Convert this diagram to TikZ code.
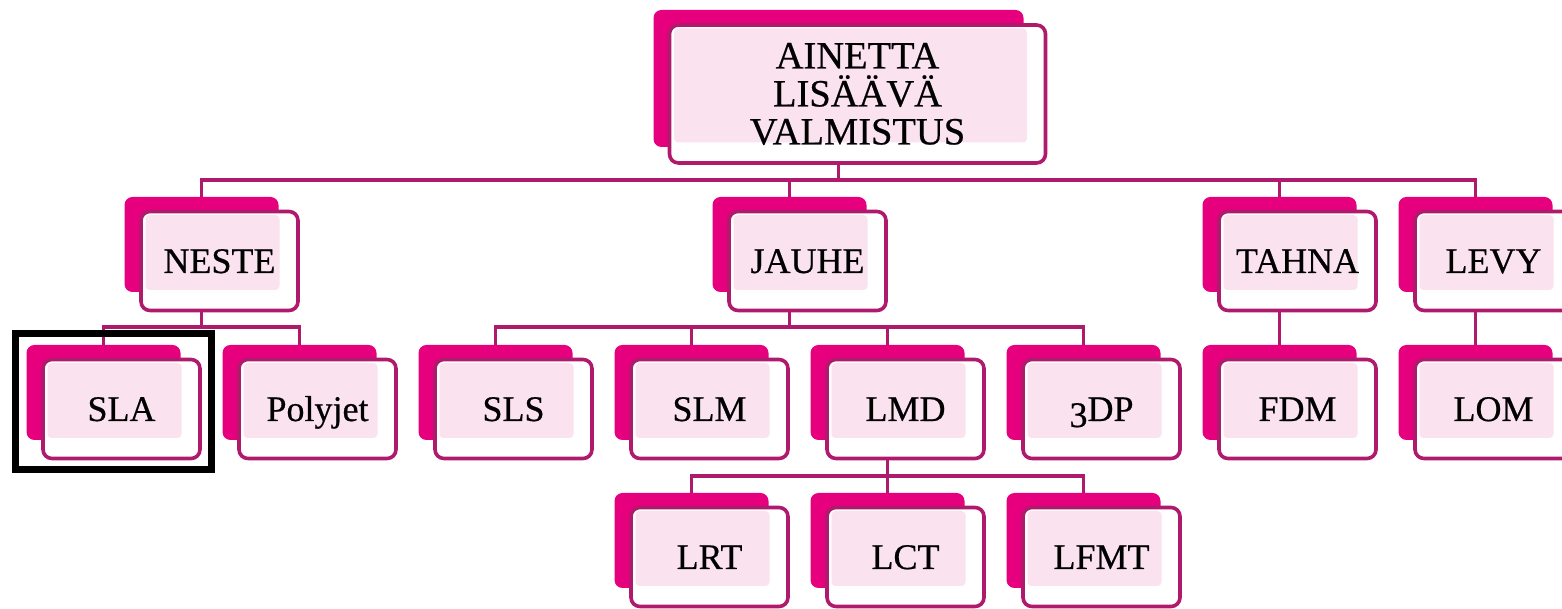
\documentclass[tikz,border=0pt]{standalone}
\usepackage{fontspec}
\setmainfont{Liberation Serif}
\usepackage{tikz}
\usetikzlibrary{positioning,calc,fit,backgrounds}
\definecolor{boxmagenta}{RGB}{230,0,126}
\definecolor{edgemagenta}{RGB}{176,26,108}
\definecolor{innerpink}{RGB}{250,226,239}

\begin{document}
\begin{tikzpicture}[
    x=1pt, y=1pt,
    node distance=53pt and 42pt,
    backbox/.style={fill=boxmagenta, rounded corners=8pt, minimum width=154pt, minimum height=95pt, inner sep=0pt, outer sep=0pt},
    rootback/.style={backbox, minimum width=370pt, minimum height=137pt},
    facebox/.style={draw=edgemagenta, line width=3.6pt, fill=white, rounded corners=9pt, inner sep=0pt, outer sep=0pt,
        path picture={\fill[innerpink, rounded corners=4pt] ([shift={(4.5pt,-3.5pt)}]path picture bounding box.north west) rectangle ([shift={(-18.5pt,20.5pt)}]path picture bounding box.south east);}},
    leafbox/.style={facebox, minimum width=157pt, minimum height=99pt, font=\fontsize{36}{38}\selectfont\addfontfeature{FakeBold=0.5}, text height=24pt, text depth=0pt},
    rootbox/.style={facebox, minimum width=376pt, minimum height=138pt, font=\fontsize{38.5}{38}\selectfont\addfontfeature{FakeBold=0.5}, align=center},
    link/.style={draw=edgemagenta, line width=3.6pt},
    hilite/.style={draw=black, line width=7pt, inner sep=11pt}
]
    \useasboundingbox (0,0) rectangle (1562,609);

    % back plates, process row
    \node[backbox] (sla-b) at (103.5,216.5) {};
    \node[backbox, right=of sla-b] (poly-b) {};
    \node[backbox, right=of poly-b] (sls-b) {};
    \node[backbox, right=of sls-b] (slm-b) {};
    \node[backbox, right=of slm-b] (lmd-b) {};
    \node[backbox, right=of lmd-b] (tdp-b) {};
    \node[backbox, right=of tdp-b] (fdm-b) {};
    \node[backbox, right=of fdm-b] (lom-b) {};
    % LMD variants
    \node[backbox, below=of slm-b] (lrt-b) {};
    \node[backbox, below=of lmd-b] (lct-b) {};
    \node[backbox, below=of tdp-b] (lfmt-b) {};
    % material groups
    \coordinate (nestemid) at ($(sla-b.north)!0.5!(poly-b.north)$);
    \coordinate (jauhemid) at ($(sls-b.north)!0.5!(tdp-b.north)$);
    \node[backbox, above=of nestemid] (neste-b) {};
    \node[backbox, above=of jauhemid] (jauhe-b) {};
    \node[backbox, above=of fdm-b] (tahna-b) {};
    \node[backbox, above=of lom-b] (levy-b) {};
    \coordinate (rootmid) at ($(neste-b.north)!0.5!(levy-b.north)$);
    \node[rootback, above=50pt of rootmid] (root-b) {};

    % front cards
    \node[rootbox] (root) at ([shift={(19pt,-15.5pt)}]root-b) {AINETTA\\LISÄÄVÄ\\VALMISTUS};
    \node[leafbox] (neste) at ([shift={(18pt,-16.5pt)}]neste-b) {NESTE};
    \node[leafbox] (jauhe) at ([shift={(18pt,-16.5pt)}]jauhe-b) {JAUHE};
    \node[leafbox] (tahna) at ([shift={(18pt,-16.5pt)}]tahna-b) {TAHNA};
    \node[leafbox] (levy) at ([shift={(18pt,-16.5pt)}]levy-b) {LEVY};
    \node[leafbox] (sla) at ([shift={(18pt,-16.5pt)}]sla-b) {SLA};
    \node[leafbox] (poly) at ([shift={(18pt,-16.5pt)}]poly-b) {Polyjet};
    \node[leafbox] (sls) at ([shift={(18pt,-16.5pt)}]sls-b) {SLS};
    \node[leafbox] (slm) at ([shift={(18pt,-16.5pt)}]slm-b) {SLM};
    \node[leafbox] (lmd) at ([shift={(18pt,-16.5pt)}]lmd-b) {LMD};
    \node[leafbox] (tdp) at ([shift={(18pt,-16.5pt)}]tdp-b) {\raisebox{-6pt}{3}DP};
    \node[leafbox] (fdm) at ([shift={(18pt,-16.5pt)}]fdm-b) {FDM};
    \node[leafbox] (lom) at ([shift={(18pt,-16.5pt)}]lom-b) {LOM};
    \node[leafbox] (lrt) at ([shift={(18pt,-16.5pt)}]lrt-b) {LRT};
    \node[leafbox] (lct) at ([shift={(18pt,-16.5pt)}]lct-b) {LCT};
    \node[leafbox] (lfmt) at ([shift={(18pt,-16.5pt)}]lfmt-b) {LFMT};

    % highlight
    \node[hilite, fit=(sla-b)(sla)] (slamark) {};

    % tree lines
    \begin{scope}[on background layer]
        \draw[link] (root-b.south) -- ++(0,-33) coordinate (bus0);
        \foreach \c in {neste,jauhe,tahna,levy} \draw[link] (\c-b.north) |- (bus0);
        \draw[link] (neste-b.south) -- ++(0,-35) coordinate (bus1);
        \foreach \c in {sla,poly} \draw[link] (\c-b.north) |- (bus1);
        \draw[link] (jauhe-b.south) -- ++(0,-35) coordinate (bus2);
        \foreach \c in {sls,slm,lmd,tdp} \draw[link] (\c-b.north) |- (bus2);
        \draw[link] (lmd-b.south) -- ++(0,-36) coordinate (bus3);
        \foreach \c in {lrt,lct,lfmt} \draw[link] (\c-b.north) |- (bus3);
        \draw[link] (tahna-b.south) -- (fdm-b.north);
        \draw[link] (levy-b.south) -- (lom-b.north);
    \end{scope}
\end{tikzpicture}
\end{document}
